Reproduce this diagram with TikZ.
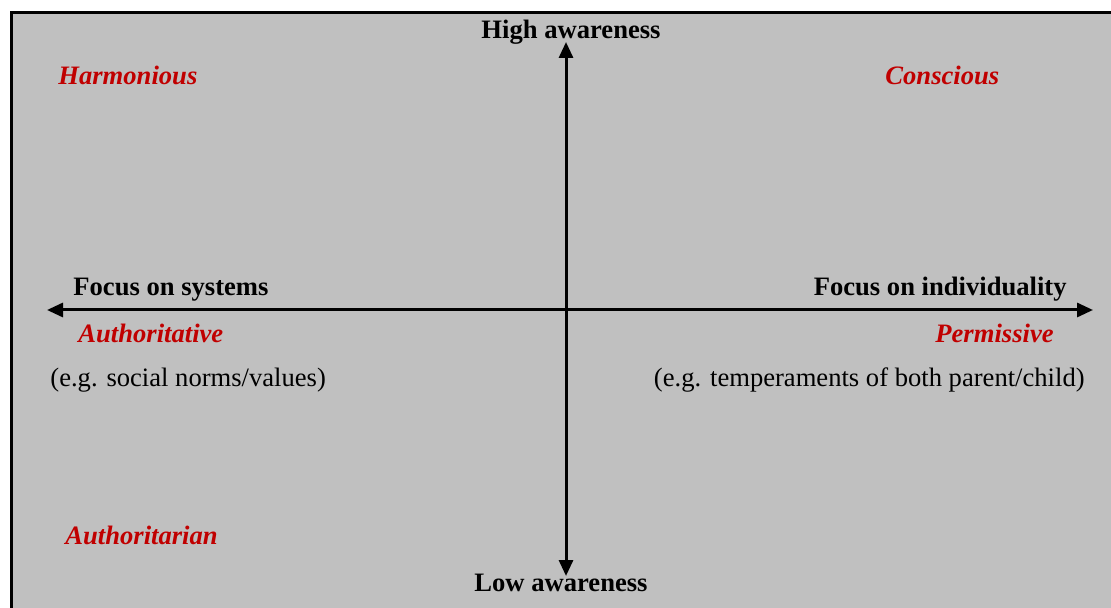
\documentclass[tikz,border=0pt]{standalone}
\usepackage{fontspec}
\setmainfont{Liberation Serif}
\usetikzlibrary{arrows.meta}
\definecolor{quadred}{RGB}{192,0,0}
\definecolor{quadgray}{RGB}{192,192,192}
\tikzset{every node/.style={inner sep=0pt, font=\fontsize{13.3}{15}\selectfont},
  axis/.style={black, line width=1.5pt, -{Triangle[width=7pt,length=8pt]}},
  pole/.style={font=\fontsize{13.3}{15}\selectfont\bfseries},
  style/.style={quadred, font=\fontsize{13.3}{15}\selectfont\bfseries\itshape},
  note/.style={black}}

\begin{document}
\begin{tikzpicture}[x=0.5pt,y=-0.5pt]
     \useasboundingbox (0,0) rectangle (1111,608);
     \fill[quadgray] (11,13) rectangle (1111,608);
     \draw[line width=1.5pt] (11,608) -- (11,13) -- (1111,13);
     \coordinate (c)   at (566,310);
     \coordinate (top) at (566,42);
     \coordinate (bot) at (566,576);
     \coordinate (lft) at (47,310);
     \coordinate (rgt) at (1093,310);
     \draw[axis] (c) -- (top);
     \draw[axis] (c) -- (bot);
     \draw[axis] (c) -- (lft);
     \draw[axis] (c) -- (rgt);
     \node[pole] (high) at (571,32) {High awareness};
     \node[pole] (low)  at (561,583) {Low awareness};
     \node[pole,anchor=west] (sys) at (73,290) {Focus on systems};
     \node[pole,anchor=east] (ind) at (1067,289) {Focus on individuality};
     \node[style,anchor=west] (harm) at (58,75) {Harmonious};
     \node[style,anchor=west] (consc) at (885,75) {Conscious};
     \node[style,anchor=west] (auth) at (78,333) {Authoritative};
     \node[style,anchor=east] (perm) at (1054,333) {Permissive};
     \node[style,anchor=west] (autht) at (65,535) {Authoritarian};
     \node[note,anchor=west] (norms) at (50,380) {(e.g. social norms/values)};
     \node[note,anchor=east] (temp) at (1085,380) {(e.g. temperaments of both parent/child)};
\end{tikzpicture}
\end{document}
